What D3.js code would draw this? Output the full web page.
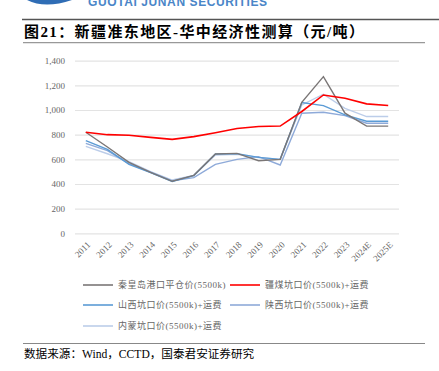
<!DOCTYPE html>
<html>
<head>
<meta charset="utf-8">
<script src="https://cdn.jsdelivr.net/npm/d3@7"></script>
<style>
  body { margin: 0; background: #fff; }
  svg { display: block; }
</style>
</head>
<body>
<div id="chart"></div>
<script>
// data
const years = ['2011', '2012', '2013', '2014', '2015', '2016', '2017', '2018', '2019', '2020', '2021', '2022', '2023', '2024E', '2025E'];
const qhdPrice = [820, 700, 576, 495, 422, 470, 643, 648, 589, 600, 1063, 1271, 974, 869, 869];
const xjPrice = [820, 800, 795, 778, 762, 784, 815, 850, 866, 870, 988, 1122, 1095, 1050, 1036];
const sxPrice = [751, 680, 559, 492, 420, 468, 643, 646, 616, 600, 1060, 1036, 961, 909, 909];
const shxPrice = [730, 670, 565, 495, 425, 451, 559, 600, 622, 554, 974, 982, 955, 893, 893];
const nmPrice = [705, 645, 581, 500, 432, 470, 635, 640, 615, 600, 1041, 1128, 1014, 947, 947];
const yTicks = [0, 200, 400, 600, 800, 1000, 1200, 1400];

const series = [
    { name: '秦皇岛港口平仓价(5500k)', values: qhdPrice, color: '#7a7676' },
    { name: '疆煤坑口价(5500k)+运费', values: xjPrice, color: '#ff0000' },
    { name: '山西坑口价(5500k)+运费', values: sxPrice, color: '#5b9bd5' },
    { name: '陕西坑口价(5500k)+运费', values: shxPrice, color: '#8eaad9' },
    { name: '内蒙坑口价(5500k)+运费', values: nmPrice, color: '#bccde9' }
];

const width = 439;
const height = 371;
const serif = '"Liberation Serif", "Times New Roman", "Noto Sans CJK SC", serif';

const svg = d3.select('#chart')
    .append('svg')
    .attr('width', width)
    .attr('height', height);

// header logo text and rules
svg.append('path')
    .attr('d', 'M27,0 Q45,9 72,0 Z')
    .attr('fill', '#2f6db5');
svg.append('text')
    .attr('x', 88).attr('y', 6)
    .attr('font-family', '"Liberation Sans", Arial, sans-serif')
    .attr('font-weight', 'bold')
    .attr('font-size', 12)
    .attr('letter-spacing', 0.6)
    .attr('fill', '#4a86c8')
    .text('GUOTAI JUNAN SECURITIES');
svg.append('line')
    .attr('x1', 22).attr('x2', 439).attr('y1', 19.5).attr('y2', 19.5)
    .attr('stroke', '#555').attr('stroke-width', 1.5);
svg.append('text')
    .attr('x', 24).attr('y', 37)
    .attr('font-family', serif)
    .attr('font-weight', 'bold')
    .attr('font-size', 15)
    .attr('letter-spacing', 1.4)
    .attr('fill', '#000')
    .text('图21：新疆准东地区-华中经济性测算（元/吨）');
svg.append('line')
    .attr('x1', 23).attr('x2', 425).attr('y1', 42.7).attr('y2', 42.7)
    .attr('stroke', '#999').attr('stroke-width', 1.2);

// plot area
const x = d3.scaleBand()
    .domain(years)
    .range([75, 399]);

const y = d3.scaleLinear()
    .domain([0, 1400])
    .range([233.3, 60.7]);

// gridlines + y labels
const yAxis = svg.append('g')
    .attr('transform', 'translate(75,0)')
    .call(d3.axisLeft(y).tickValues(yTicks).tickSize(-324).tickFormat(d3.format(',')));
yAxis.select('.domain').remove();
yAxis.selectAll('.tick line').attr('stroke', '#e3e3e3').attr('stroke-width', 1.2);
yAxis.selectAll('.tick text')
    .attr('x', -10)
    .attr('font-family', serif)
    .attr('font-size', 9)
    .attr('fill', '#666');

// x labels
const xAxis = svg.append('g')
    .attr('transform', 'translate(0,233.3)')
    .call(d3.axisBottom(x).tickSize(0));
xAxis.select('.domain').remove();
xAxis.selectAll('.tick text')
    .attr('font-family', serif)
    .attr('font-size', 9)
    .attr('fill', '#666')
    .attr('text-anchor', 'end')
    .attr('dy', 0)
    .attr('transform', 'translate(3,10) rotate(-45)');

// lines
const line = d3.line()
    .x((d, i) => x(years[i]) + x.bandwidth() / 2)
    .y(d => y(d));

// draw back to front so grey and red stay visible
[4, 3, 2, 0, 1].forEach(k => {
    svg.append('path')
        .datum(series[k].values)
        .attr('fill', 'none')
        .attr('stroke', series[k].color)
        .attr('stroke-width', k === 1 ? 1.6 : 1.4)
        .attr('d', line);
});

// legend
const legendPos = [[83, 285], [230, 285], [83, 305], [230, 305], [83, 326]];
series.forEach((s, i) => {
    const [lx, ly] = legendPos[i];
    svg.append('line')
        .attr('x1', lx).attr('x2', lx + 30)
        .attr('y1', ly).attr('y2', ly)
        .attr('stroke', s.color)
        .attr('stroke-width', 1.6);
    svg.append('text')
        .attr('x', lx + 35).attr('y', ly + 3)
        .attr('font-family', serif)
        .attr('font-size', 9)
        .attr('letter-spacing', 0.5)
        .attr('fill', '#666')
        .text(s.name);
});

// footer
svg.append('line')
    .attr('x1', 23).attr('x2', 425).attr('y1', 343.5).attr('y2', 343.5)
    .attr('stroke', '#888').attr('stroke-width', 1.2);
svg.append('text')
    .attr('x', 24).attr('y', 358)
    .attr('font-family', serif)
    .attr('font-size', 11.6)
    .attr('fill', '#000')
    .text('数据来源：Wind，CCTD，国泰君安证券研究');
</script>
</body>
</html>
